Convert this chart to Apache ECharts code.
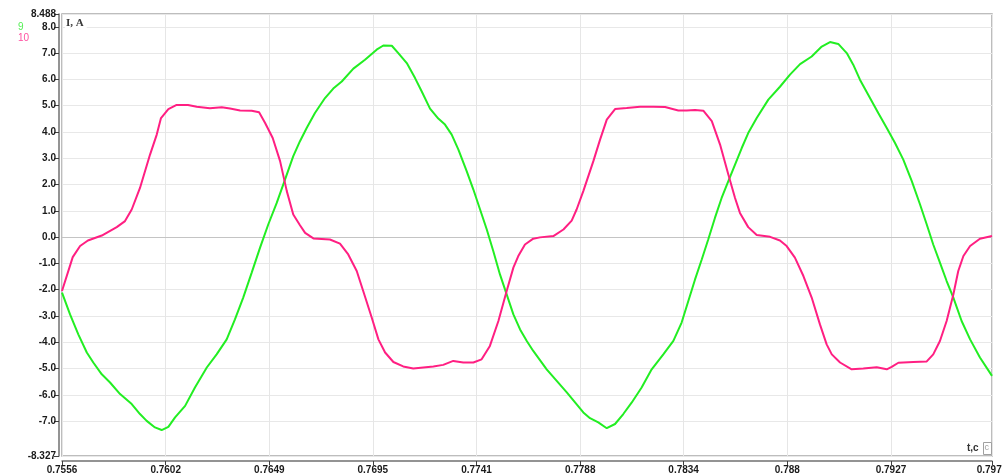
<!DOCTYPE html>
<html>
<head>
<meta charset="utf-8">
<script src="https://cdn.jsdelivr.net/npm/echarts@6/dist/echarts.min.js"></script>
<style>
    html, body {margin: 0; padding: 0; background: #fff;}
    #osc-chart {width: 1002px; height: 475px;}
</style>
</head>
<body>
<div id="osc-chart"></div>
<script>
    "use strict";

    /*---- data ----*/
    var timeMin = 0.75558;
    var timeMax = 0.7972;
    var timeTicks = [0.75558, 0.76022, 0.76486, 0.76949, 0.77413, 0.77877, 0.7834, 0.78804, 0.79268, 0.7972];
    var currentTicks = [-8.327, -7, -6, -5, -4, -3, -2, -1, 0, 1, 2, 3, 4, 5, 6, 7, 8, 8.488];

    var t9 = [0.75558, 0.75594, 0.75631, 0.75669, 0.75698, 0.75736, 0.75773, 0.75818, 0.75870, 0.75907,
        0.75937, 0.75974, 0.76004, 0.76034, 0.76064, 0.76109, 0.76153, 0.76206, 0.76250, 0.76295,
        0.76332, 0.76369, 0.76407, 0.76444, 0.76481, 0.76519, 0.76556, 0.76593, 0.76623, 0.76653,
        0.76690, 0.76735, 0.76772, 0.76810, 0.76862, 0.76914, 0.76966, 0.76996, 0.77034, 0.77063,
        0.77101, 0.77138, 0.77168, 0.77205, 0.77242, 0.77272, 0.77302, 0.77332, 0.77369, 0.77399,
        0.77429, 0.77459, 0.77488, 0.77518, 0.77548, 0.77578, 0.77608, 0.77638, 0.77667, 0.77697,
        0.77727, 0.77772, 0.77817, 0.77854, 0.77891, 0.77921, 0.77958, 0.77996, 0.78033, 0.78070,
        0.78108, 0.78152, 0.78197, 0.78249, 0.78294, 0.78331, 0.78361, 0.78391, 0.78421, 0.78450,
        0.78480, 0.78510, 0.78540, 0.78570, 0.78600, 0.78629, 0.78667, 0.78719, 0.78771, 0.78816,
        0.78861, 0.78913, 0.78958, 0.78995, 0.79032, 0.79070, 0.79099, 0.79129, 0.79166, 0.79211,
        0.79249, 0.79286, 0.79323, 0.79361, 0.79398, 0.79428, 0.79457, 0.79487, 0.79517, 0.79547,
        0.79584, 0.79622, 0.79666, 0.79720];
    var i9 = [-2.11, -2.94, -3.70, -4.39, -4.77, -5.22, -5.53, -5.97, -6.35, -6.73,
        -6.99, -7.24, -7.34, -7.22, -6.86, -6.42, -5.72, -4.96, -4.46, -3.89,
        -3.13, -2.30, -1.35, -0.41, 0.48, 1.30, 2.19, 3.08, 3.65, 4.15,
        4.72, 5.29, 5.65, 5.92, 6.41, 6.75, 7.13, 7.29, 7.28, 7.00,
        6.62, 6.05, 5.54, 4.89, 4.51, 4.28, 3.90, 3.33, 2.51, 1.81,
        1.05, 0.29, -0.53, -1.42, -2.18, -2.94, -3.51, -3.95, -4.33, -4.68,
        -5.03, -5.47, -5.91, -6.29, -6.67, -6.89, -7.05, -7.27, -7.11, -6.73,
        -6.29, -5.72, -5.03, -4.46, -3.95, -3.25, -2.43, -1.61, -0.85, -0.09,
        0.73, 1.49, 2.13, 2.76, 3.39, 3.96, 4.53, 5.23, 5.72, 6.18,
        6.58, 6.87, 7.25, 7.42, 7.35, 7.00, 6.56, 5.99, 5.42, 4.72,
        4.15, 3.58, 2.95, 2.13, 1.24, 0.48, -0.28, -0.97, -1.67, -2.30,
        -3.19, -3.89, -4.58, -5.28];

    var t10 = [0.75558, 0.75606, 0.75639, 0.75674, 0.75736, 0.75803, 0.75840, 0.75870, 0.75907, 0.75952,
        0.75982, 0.76001, 0.76034, 0.76071, 0.76122, 0.76161, 0.76220, 0.76273, 0.76310, 0.76355,
        0.76407, 0.76440, 0.76467, 0.76501, 0.76534, 0.76564, 0.76593, 0.76623, 0.76646, 0.76683,
        0.76757, 0.76802, 0.76839, 0.76877, 0.76906, 0.76944, 0.76974, 0.77004, 0.77041, 0.77085,
        0.77130, 0.77175, 0.77220, 0.77264, 0.77309, 0.77354, 0.77399, 0.77436, 0.77473, 0.77511,
        0.77548, 0.77578, 0.77600, 0.77630, 0.77667, 0.77697, 0.77757, 0.77802, 0.77839, 0.77861,
        0.77891, 0.77936, 0.77966, 0.77996, 0.78033, 0.78085, 0.78145, 0.78204, 0.78257, 0.78316,
        0.78354, 0.78391, 0.78428, 0.78466, 0.78503, 0.78540, 0.78570, 0.78592, 0.78629, 0.78667,
        0.78727, 0.78771, 0.78801, 0.78838, 0.78876, 0.78913, 0.78950, 0.78980, 0.79003, 0.79040,
        0.79092, 0.79144, 0.79204, 0.79249, 0.79271, 0.79301, 0.79368, 0.79428, 0.79457, 0.79487,
        0.79517, 0.79547, 0.79569, 0.79592, 0.79622, 0.79666, 0.79720];
    var i10 = [-2.05, -0.76, -0.34, -0.13, 0.06, 0.38, 0.61, 1.05, 1.87, 3.14,
        3.90, 4.53, 4.87, 5.03, 5.03, 4.96, 4.90, 4.94, 4.89, 4.82,
        4.81, 4.75, 4.34, 3.77, 2.89, 1.75, 0.86, 0.45, 0.16, -0.05,
        -0.09, -0.25, -0.66, -1.29, -2.05, -3.06, -3.89, -4.39, -4.75, -4.92,
        -5.00, -4.96, -4.92, -4.86, -4.71, -4.77, -4.77, -4.65, -4.14, -3.19,
        -2.05, -1.16, -0.72, -0.28, -0.06, -0.01, 0.04, 0.29, 0.63, 1.05,
        1.75, 2.89, 3.71, 4.47, 4.87, 4.91, 4.96, 4.96, 4.95, 4.82,
        4.82, 4.84, 4.81, 4.41, 3.52, 2.38, 1.49, 0.92, 0.38, 0.08,
        0.01, -0.13, -0.34, -0.78, -1.48, -2.30, -3.32, -4.08, -4.46, -4.77,
        -5.03, -5.00, -4.95, -5.03, -4.94, -4.78, -4.75, -4.73, -4.46, -3.95,
        -3.19, -2.18, -1.29, -0.72, -0.34, -0.06, 0.04];

    var color9 = '#22ee22';
    var color10 = '#ff1f82';

    function pairs(ts, vs) {
        return ts.map(function (t, k) { return [t, vs[k]]; });
    }

    var labelFont = {
        fontFamily: 'Liberation Sans, Arial, sans-serif',
        fontWeight: 'bold',
        fontSize: 10,
        color: '#1a1a1a'
    };

    var myChart = echarts.init(document.getElementById('osc-chart'), null, {renderer: 'canvas'});
    myChart.setOption({
        animation: false,
        backgroundColor: '#ffffff',
        grid: {
            left: 62,
            top: 14,
            width: 930,
            height: 442,
            show: true,
            borderColor: '#a8a8a8',
            borderWidth: 1.5,
            outerBoundsMode: 'none'
        },
        legend: {
            left: 8,
            top: 17,
            orient: 'vertical',
            itemGap: 1,
            itemWidth: 0,
            itemHeight: 0,
            icon: 'none',
            selectedMode: false,
            textStyle: {fontSize: 10, fontFamily: 'Liberation Sans, Arial, sans-serif'},
            data: [
                {name: '9', textStyle: {color: '#55ee55'}},
                {name: '10', textStyle: {color: '#ff4fa0'}}
            ]
        },
        xAxis: {
            type: 'value',
            min: timeMin,
            max: timeMax,
            offset: 5,
            axisLine: {show: true, onZero: false, lineStyle: {color: '#707070', width: 1.5}},
            axisTick: {show: true, length: 4, customValues: timeTicks, lineStyle: {color: '#404040'}},
            axisLabel: Object.assign({
                customValues: timeTicks,
                margin: 4,
                formatter: function (v) { return String(parseFloat(v.toFixed(4))); }
            }, labelFont),
            splitLine: {show: true, lineStyle: {color: '#e6e6e6', width: 1}}
        },
        yAxis: {
            type: 'value',
            min: -8.327,
            max: 8.488,
            offset: 3,
            axisLine: {show: true, onZero: false, lineStyle: {color: '#707070', width: 1.5}},
            axisTick: {show: true, length: 5, customValues: currentTicks, lineStyle: {color: '#404040'}},
            axisLabel: Object.assign({
                customValues: currentTicks,
                margin: 3,
                formatter: function (v) { return Number.isInteger(v) ? v.toFixed(1) : String(v); }
            }, labelFont),
            splitLine: {show: true, lineStyle: {color: '#e8e8e8', width: 1}}
        },
        graphic: [
            {
                type: 'text',
                left: 65,
                top: 18,
                z: 10,
                style: {
                    text: 'I, A',
                    font: 'bold 11px "Liberation Serif", "Times New Roman", serif',
                    fill: '#3a3a3a',
                    backgroundColor: '#ffffff',
                    padding: [0, 3, 0, 1]
                }
            },
            {
                type: 'text',
                left: 967,
                top: 443,
                z: 10,
                style: {
                    text: 't,c',
                    font: 'bold 10px "Liberation Sans", Arial, sans-serif',
                    fill: '#333333'
                }
            },
            {
                type: 'rect',
                left: 983,
                top: 442,
                z: 10,
                shape: {width: 8, height: 12},
                style: {fill: '#ffffff', stroke: '#a0a0a0', lineWidth: 1}
            },
            {
                type: 'text',
                left: 984.5,
                top: 443,
                z: 11,
                style: {
                    text: 'c',
                    font: '9px "Liberation Sans", Arial, sans-serif',
                    fill: '#a0a0a0'
                }
            }
        ],
        series: [
            {
                name: '9',
                type: 'line',
                data: pairs(t9, i9),
                showSymbol: false,
                symbol: 'none',
                clip: true,
                lineStyle: {color: color9, width: 2},
                itemStyle: {color: color9},
                z: 3
            },
            {
                name: '10',
                type: 'line',
                data: pairs(t10, i10),
                showSymbol: false,
                symbol: 'none',
                clip: true,
                lineStyle: {color: color10, width: 2},
                itemStyle: {color: color10},
                z: 4,
                markLine: {
                    silent: true,
                    symbol: 'none',
                    label: {show: false},
                    lineStyle: {color: '#c4c4c4', type: 'solid', width: 1},
                    data: [{yAxis: 0}],
                    z: 1
                }
            }
        ]
    });

    window.onresize = function () {
        myChart.resize();
    };
</script>
</body>
</html>
